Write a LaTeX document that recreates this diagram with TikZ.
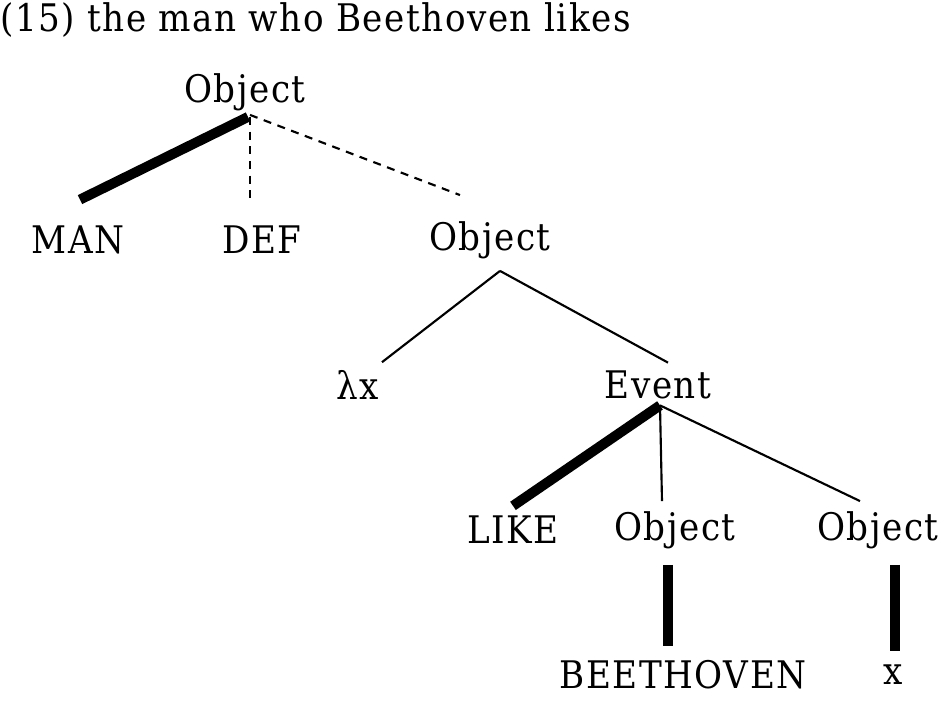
\documentclass[tikz,border=0pt]{standalone}
\usepackage{fontspec}
\setmainfont[LetterSpace=4]{DejaVu Serif Condensed}
\usetikzlibrary{positioning,calc}
\begin{document}
\begin{tikzpicture}[x=0.75pt,y=-0.75pt,
  lbl/.style={font=\fontsize{28.5}{31}\selectfont,inner sep=0pt},
  heavy/.style={line width=7.5pt},
  thin/.style={line width=1.6pt},
  dashline/.style={line width=1.6pt,dash pattern=on 6pt off 5pt}]
 \useasboundingbox (0,0) rectangle (951,705);
 \node[lbl,anchor=west] (title) at (0,20) {(15) the man who Beethoven likes};
 % first level
 \node[lbl] (top) at (245,92) {Object};
 \node[lbl] (man) at (78,240) {MAN};
 \node[lbl] (def) at (262,240) {DEF};
 \node[lbl] (obj) at (490,240) {Object};
 % second level
 \node[lbl] (lam) at (358,385) {λx};
 \node[lbl] (ev) at (658,385) {Event};
 % third level
 \node[lbl] (like) at (513,530) {LIKE};
 \node[lbl] (oba) at (675,530) {Object};
 \node[lbl] (obb) at (878,530) {Object};
 \node[lbl] (bee) at (683,675) {BEETHOVEN};
 \node[lbl] (x) at (893,675) {x};
 % connectors
 \draw[heavy] ($(top.south)+(3,6)$) -- ($(man.north)+(2,-26)$);
 \draw[dashline] ($(top.south)+(5,6)$) -- ($(def.north)+(-12,-26)$);
 \draw[dashline] ($(top.south)+(5,4)$) -- ($(obj.north)+(-30,-26)$);
 \draw[thin] ($(obj.south)+(10,12)$) -- ($(lam.north)+(24,-8)$);
 \draw[thin] ($(obj.south)+(10,12)$) -- ($(ev.north)+(10,-8)$);
 \draw[heavy] ($(ev.south)+(2,6)$) -- ($(like.north)+(0,-10)$);
 \draw[thin] ($(ev.south)+(2,6)$) -- ($(oba.north)+(-13,-10)$);
 \draw[thin] ($(ev.south)+(2,6)$) -- ($(obb.north)+(-18,-10)$);
 \draw[heavy] ($(oba.south)+(-7,16)$) -- ($(bee.north)+(-15,-14)$);
 \draw[heavy] ($(obb.south)+(17,16)$) -- ($(x.north)+(2,-14)$);
\end{tikzpicture}
\end{document}
